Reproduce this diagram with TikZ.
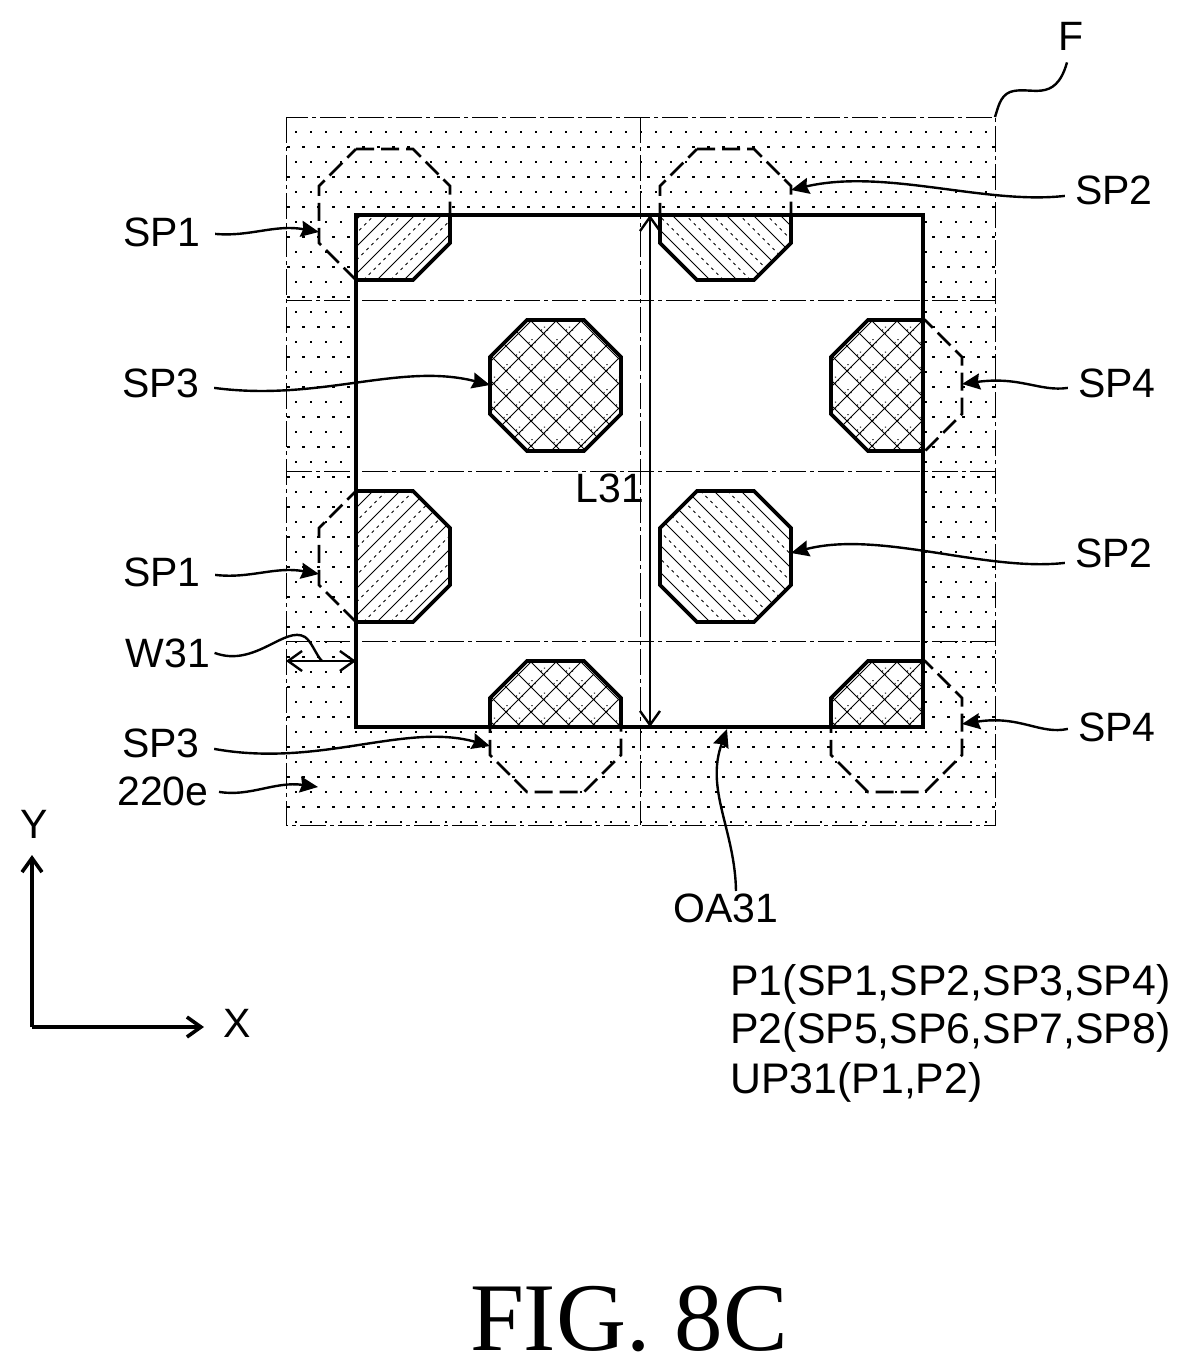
\documentclass[tikz,border=0pt]{standalone}
\usepackage{fontspec}
\setmainfont{Liberation Sans}
\newfontfamily\figfont{Liberation Serif}
\usetikzlibrary{arrows.meta}
\newcommand\octa[2]{({#1+37},{#2}) -- ({#1+94},{#2}) -- ({#1+131},{#2+37}) -- ({#1+131},{#2+94}) -- ({#1+94},{#2+131}) -- ({#1+37},{#2+131}) -- ({#1},{#2+94}) -- ({#1},{#2+37}) -- cycle}
\tikzset{
  lab/.style={font=\fontsize{20.5}{25}\selectfont, anchor=base, inner ysep=0pt, inner xsep=0pt},
  labl/.style={lab, inner xsep=7pt},
  labr/.style={lab, inner xsep=5pt},
  listlab/.style={font=\fontsize{21.4}{25}\selectfont, anchor=base west, inner sep=0pt},
  chain/.style={line width=0.5pt, dash pattern=on 13pt off 2pt on 2pt off 2pt},
  octdash/.style={line width=1.3pt, dash pattern=on 9pt off 3.5pt},
  octsolid/.style={line width=1.8pt, line join=miter},
  openarea/.style={line width=2pt, line join=miter},
  hatchsolid/.style={line width=0.45pt},
  hatchdot/.style={line width=0.45pt, dash pattern=on 1.5pt off 2pt},
  leader/.style={line width=1.2pt, -{Stealth[length=9pt,width=8pt,inset=1pt]}},
  dimline/.style={line width=1.2pt, {Straight Barb[length=7pt,width=10pt]}-{Straight Barb[length=7pt,width=10pt]}},
  axisline/.style={line width=1.8pt, -{Straight Barb[length=7pt,width=10pt]}}
}
\begin{document}
\begin{tikzpicture}[x=0.5pt,y=-0.5pt]
\useasboundingbox (0,0) rectangle (1189,1372);
% dot field
\foreach \k in {0,2,...,46}{
  \pgfmathsetmacro\yy{131.7+15*\k}
  \foreach \j in {0,...,46}{
    \pgfmathsetmacro\xx{296+15*\j}
    \fill (\xx-1.2,\yy-1.2) rectangle (\xx+1.2,\yy+1.2);
  }
}
\foreach \k in {1,3,...,45}{
  \pgfmathsetmacro\yy{131.7+15*\k}
  \foreach \j in {-1,...,46}{
    \pgfmathsetmacro\xx{303.5+15*\j}
    \fill (\xx-1.2,\yy-1.2) rectangle (\xx+1.2,\yy+1.2);
  }
}
% outer frame and chain lines
\draw[chain] (286,117) rectangle (995,825);
% dashed octagons
\foreach \ox/\oy in {319/149,660/149,490/320,831/320,319/491,660/491,490/661,831/661}{
  \draw[octdash] \octa{\ox}{\oy};
}
% opening
\fill[white] (356,215) rectangle (923,727);
\draw[chain] (640,117) -- (640,825);
\draw[chain] (286,300) -- (995,300);
\draw[chain] (286,471) -- (995,471);
\draw[chain] (286,641) -- (995,641);
\begin{scope}
\clip (356,215) rectangle (923,727);
% SP1 hatch
\foreach \ox/\oy in {319/149,319/491}{
  \begin{scope}
    \clip \octa{\ox}{\oy};
    \fill[white] \octa{\ox}{\oy};
    \foreach \k in {1,...,10}{
      \draw[hatchsolid] ({\ox+27*\k},\oy) -- (\ox,{\oy+27*\k});
      \draw[hatchdot] ({\ox+27*\k+13.5},\oy) -- (\ox,{\oy+27*\k+13.5});
    }
  \end{scope}
  \draw[octsolid] \octa{\ox}{\oy};
}
% SP2 hatch
\foreach \ox/\oy in {660/149,660/491}{
  \begin{scope}
    \clip \octa{\ox}{\oy};
    \fill[white] \octa{\ox}{\oy};
    \foreach \k in {-5,...,5}{
      \draw[hatchsolid] ({\ox+27*\k},\oy) -- ({\ox+27*\k+132},{\oy+132});
      \draw[hatchdot] ({\ox+27*\k+13.5},\oy) -- ({\ox+27*\k+145.5},{\oy+132});
    }
  \end{scope}
  \draw[octsolid] \octa{\ox}{\oy};
}
% SP3, SP4 cross hatch
\foreach \ox/\oy in {490/320,831/320,490/661,831/661}{
  \begin{scope}
    \clip \octa{\ox}{\oy};
    \fill[white] \octa{\ox}{\oy};
    \foreach \k in {0,...,11}{
      \draw[hatchsolid] ({\ox+25*\k-8},\oy) -- (\ox,{\oy+25*\k-8});
      \draw[hatchsolid] ({\ox+132-25*\k+8},\oy) -- ({\ox+132},{\oy+25*\k-8});
    }
    \foreach \k in {0,...,10}{
      \foreach \m in {-5,...,5}{
        \pgfmathsetmacro\cx{\ox+12.5*(\k+\m)+4.5}
        \pgfmathsetmacro\cy{\oy+12.5*(\k-\m)+60}
        \fill (\cx-3.5,\cy-.6) rectangle (\cx-2.3,\cy+.6)
              (\cx+2.3,\cy-.6) rectangle (\cx+3.5,\cy+.6)
              (\cx-.6,\cy-3.5) rectangle (\cx+.6,\cy-2.3)
              (\cx-.6,\cy+2.3) rectangle (\cx+.6,\cy+3.5);
      }
    }
  \end{scope}
  \draw[octsolid] \octa{\ox}{\oy};
}
\end{scope}
\draw[openarea] (356,215) rectangle (923,727);
% labels
\node[labl] (a1) at (162,246) {SP1};
\node[labl] (a3) at (161,397) {SP3};
\node[labl] (b1) at (162,586) {SP1};
\node[lab, inner xsep=2pt] (w)  at (168,667) {W31};
\node[labl] (b3) at (161,757) {SP3};
\node[lab, inner xsep=5pt] (e)  at (163,805) {220e};
\node[labr] (a2) at (1114,204) {SP2};
\node[labr] (a4) at (1117,397) {SP4};
\node[labr] (b2) at (1114,567) {SP2};
\node[labr] (b4) at (1117,741) {SP4};
\node[lab] (f) at (1071,50) {F};
\node[lab] (l) at (610,502) {L31};
\node[lab] (oa) at (726,922) {OA31};
\node[listlab] (p1) at (730,995) {P1(SP1,SP2,SP3,SP4)};
\node[listlab] (p2) at (730,1043) {P2(SP5,SP6,SP7,SP8)};
\node[listlab] (up) at (730,1093) {UP31(P1,P2)};
\node[lab] (ylab) at (34,838) {Y};
\node[lab] (xlab) at (237,1037) {X};
\node[font=\figfont\fontsize{48.5}{55}\selectfont, anchor=base, inner sep=0pt] (fig) at (629,1350) {FIG. 8C};
% coordinates
\coordinate (ta1) at (319,232);
\coordinate (ta3) at (490,385);
\coordinate (tb1) at (319,574);
\coordinate (tb3) at (490,746);
\coordinate (te) at (318,787);
\coordinate (ta2) at (791,190);
\coordinate (tb2) at (791,553);
\coordinate (ta4) at (962,384);
\coordinate (tb4) at (962,724);
\coordinate (toa) at (727,729);
\coordinate (corner) at (995,117);
\coordinate (topl) at (650,215);
\coordinate (botl) at (650,727);
\coordinate (wl) at (286,661);
\coordinate (wr) at (356,661);
\coordinate (wend) at (322,661);
\coordinate (origin) at (32,1027);
\coordinate (ytip) at (32,855);
\coordinate (xtip) at (204,1027);
% leaders
\draw[leader] (a1.east) ++(0,2) .. controls (250,237) and (275,224) .. (ta1);
\draw[leader] (a3.east) ++(0,5) .. controls (320,402) and (400,362) .. (ta3);
\draw[leader] (b1.east) ++(0,3) .. controls (250,579) and (275,566) .. (tb1);
\draw[leader] (b3.east) ++(0,6) .. controls (320,768) and (405,722) .. (tb3);
\draw[leader] (e.east) ++(0,1) .. controls (250,797) and (275,781) .. (te);
\draw[leader] (a2.west) ++(0,6) .. controls (985,205) and (885,168) .. (ta2);
\draw[leader] (b2.west) ++(0,10) .. controls (985,572) and (880,530) .. (tb2);
\draw[leader] (a4.west) ++(0,5) .. controls (1040,392) and (1020,376) .. (ta4);
\draw[leader] (b4.west) ++(0,2) .. controls (1040,735) and (1020,715) .. (tb4);
\draw[leader] (oa.north) ++(10,-2) .. controls (735,830) and (705,790) .. (toa);
\draw[line width=1.2pt] (f.south) ++(-4,12) .. controls (1055,105) and (1030,85) .. (1010,92) .. controls (1000,96) and (998,108) .. (corner);
\draw[line width=1.2pt] (w.east) .. controls (255,668) and (285,625) .. (305,637) .. controls (312,642) and (316,655) .. (wend);
\draw[dimline] (wl) -- (wr);
\draw[dimline] (topl) -- (botl);
\draw[axisline] (origin) -- (ytip);
\draw[axisline] (origin) -- (xtip);
\end{tikzpicture}
\end{document}
